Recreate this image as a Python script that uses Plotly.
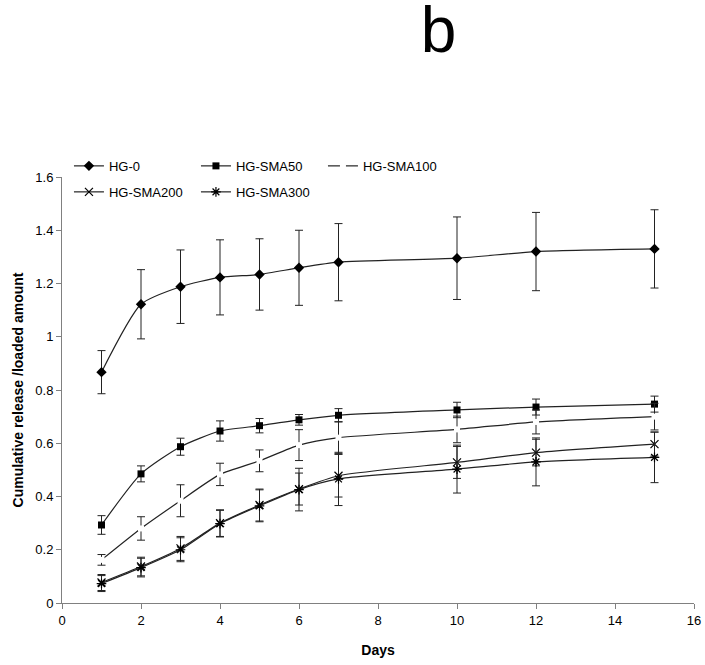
import plotly.graph_objects as go

days = [1, 2, 3, 4, 5, 6, 7, 10, 12, 15]

hg0 = [0.867, 1.122, 1.188, 1.223, 1.234, 1.259, 1.28, 1.295, 1.32, 1.33]
hg0_err = [0.081, 0.13, 0.138, 0.141, 0.134, 0.141, 0.145, 0.155, 0.147, 0.147]

sma50 = [0.293, 0.485, 0.587, 0.646, 0.666, 0.688, 0.705, 0.725, 0.736, 0.747]
sma50_err = [0.035, 0.03, 0.032, 0.038, 0.027, 0.02, 0.025, 0.029, 0.03, 0.03]

sma100 = [0.162, 0.28, 0.384, 0.483, 0.534, 0.593, 0.621, 0.652, 0.68, 0.70]
sma100_err = [0.02, 0.044, 0.06, 0.042, 0.041, 0.058, 0.06, 0.05, 0.045, 0.05]

sma200 = [0.077, 0.137, 0.205, 0.30, 0.368, 0.428, 0.478, 0.528, 0.565, 0.597]
sma200_err = [0.03, 0.035, 0.045, 0.05, 0.06, 0.06, 0.08, 0.06, 0.05, 0.045]

sma300 = [0.073, 0.133, 0.200, 0.298, 0.365, 0.426, 0.466, 0.503, 0.53, 0.547]
sma300_err = [0.03, 0.035, 0.045, 0.05, 0.06, 0.08, 0.1, 0.09, 0.09, 0.095]

x_ticks = [0, 2, 4, 6, 8, 10, 12, 14, 16]
y_ticks = [0, 0.2, 0.4, 0.6, 0.8, 1.0, 1.2, 1.4, 1.6]
y_labels = ["0", "0.2", "0.4", "0.6", "0.8", "1", "1.2", "1.4", "1.6"]

LINE = "#222222"

series = [
    ("HG-0", hg0, hg0_err, dict(symbol="diamond", size=8, color="black"), "legend"),
    ("HG-SMA50", sma50, sma50_err, dict(symbol="square", size=7, color="black"), "legend"),
    ("HG-SMA100", sma100, sma100_err, dict(symbol="square", size=6, color="white", line=dict(width=0)), "legend"),
    ("HG-SMA200", sma200, sma200_err, dict(symbol="x-thin", size=8, color="black", line=dict(width=1.2, color="black")), "legend2"),
    ("HG-SMA300", sma300, sma300_err, dict(symbol="asterisk", size=8, color="black", line=dict(width=1.2, color="black")), "legend2"),
]

fig = go.Figure()
for name, ys, errs, mk, lg in series:
    fig.add_trace(go.Scatter(
        x=days, y=ys, name=name, mode="lines+markers",
        line=dict(color=LINE, width=1.2, shape="spline", smoothing=0.6),
        marker=mk,
        error_y=dict(type="data", array=errs, visible=True, color=LINE, thickness=1, width=4),
        legend=lg,
    ))

font = "Liberation Sans, Arial, sans-serif"
leg_common = dict(orientation="h", x=0.011, xanchor="left", yanchor="middle",
                  entrywidth=82, entrywidthmode="pixels", bgcolor="rgba(0,0,0,0)",
                  font=dict(size=13), itemsizing="trace", tracegroupgap=0)
fig.update_layout(
    width=705, height=665,
    margin=dict(l=62, r=11, t=177, b=62, autoexpand=False),
    paper_bgcolor="white", plot_bgcolor="white",
    font=dict(family=font, size=13, color="black"),
    title=dict(text="b", x=0.622, xanchor="center", y=0.956, yanchor="middle",
               font=dict(family=font, size=64, color="black")),
    legend=dict(y=1.026, **leg_common),
    legend2=dict(y=0.965, **leg_common),
    showlegend=True,
)
fig.update_xaxes(
    range=[0, 16], tickvals=x_ticks, ticktext=[str(v) for v in x_ticks],
    showgrid=False, zeroline=False, showline=True, linecolor="#808080", linewidth=1,
    ticks="outside", ticklen=5, tickcolor="#808080",
    title=dict(text="<b>Days</b>", font=dict(size=14), standoff=18),
    tickfont=dict(size=13),
)
fig.update_yaxes(
    range=[0, 1.6], tickvals=y_ticks, ticktext=y_labels,
    showgrid=False, zeroline=False, showline=True, linecolor="#808080", linewidth=1,
    ticks="outside", ticklen=5, tickcolor="#808080",
    title=dict(text="<b>Cumulative release /loaded amount</b>", font=dict(size=14), standoff=8),
    tickfont=dict(size=13),
)
fig.write_html("out.html", config={"displayModeBar": False},
               post_script="document.body.style.margin='0';document.body.style.overflow='hidden';")
